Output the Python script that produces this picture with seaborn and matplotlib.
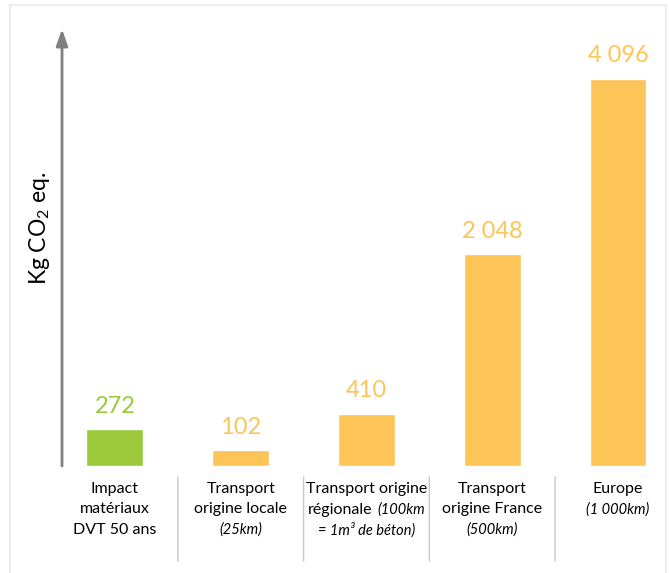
import numpy as np
import pandas as pd
import matplotlib.pyplot as plt
import seaborn as sns
from matplotlib.offsetbox import TextArea, HPacker, VPacker, AnnotationBbox
from matplotlib.patches import Rectangle

# Data
categories = ["Impact", "Locale", "Régionale", "France", "Europe"]
values = [272, 102, 410, 2048, 4096]
value_labels = ["272", "102", "410", "2 048", "4 096"]
bar_colors = ["#9AC93C", "#FDC558", "#FDC558", "#FDC558", "#FDC558"]

# category texts: lines of (text, italic) pieces
cat_texts = [
    [[("Impact", False)], [("matériaux", False)], [("DVT 50 ans", False)]],
    [[("Transport", False)], [("origine locale", False)], [("(25km)", True)]],
    [[("Transport origine", False)], [("régionale", False), ("(100km", True)],
     [("= 1m³ de béton)", True)]],
    [[("Transport", False)], [("origine France", False)], [("(500km)", True)]],
    [[("Europe", False)], [("(1 000km)", True)]],
]

sns.set_style("white")
plt.rcParams['font.family'] = ['Lato', 'DejaVu Sans']
plt.rcParams['mathtext.fontset'] = 'custom'
plt.rcParams['mathtext.rm'] = 'Lato'

W, H = 669, 573
fig = plt.figure(figsize=(W / 100, H / 100), dpi=100)

# faint outer frame
fig.add_artist(Rectangle((10 / W, -0.01), (666 - 10) / W, 1 - 5 / H + 0.01,
                         transform=fig.transFigure, fill=False,
                         edgecolor="#eeeeee", lw=1.5))

ax = fig.add_axes([62 / W, 1 - 466 / H, (660 - 62) / W, (466 - 29) / H])
df = pd.DataFrame({"cat": categories, "value": values})
sns.barplot(data=df, x="cat", y="value", hue="cat", palette=bar_colors,
            width=0.453, saturation=1, legend=False, ax=ax)

# bars are drawn on a compressed scale as in the original graphic
p = 0.87
ax.set_yscale('function', functions=(lambda y: np.power(np.clip(y, 0, None), p),
                                     lambda y: np.power(np.clip(y, 0, None), 1 / p)))
ax.set_ylim(0, 4711)
ax.set_xlim(-0.421, 4.334)

for s in ax.spines.values():
    s.set_visible(False)
ax.set_xticks([])
ax.set_yticks([])
ax.set_xlabel("")
ax.set_ylabel("")

# arrow axis
ax.annotate("", xy=(0, 1), xytext=(0, 0), xycoords='axes fraction',
            arrowprops=dict(arrowstyle='-|>,head_width=0.35,head_length=1.0',
                            color='#808080', lw=2, shrinkA=0, shrinkB=0),
            annotation_clip=False)

# value labels
for bar, lab, c in zip(ax.patches, value_labels, bar_colors):
    ax.annotate(lab, (bar.get_x() + bar.get_width() / 2, bar.get_height()),
                xytext=(0, 12), textcoords='offset points', ha='center',
                va='baseline', fontsize=17, color=c)

fig.text(40 / W, 1 - 228 / H, "Kg CO$_\\mathrm{2}$ eq.", rotation=90,
         ha='center', va='center', fontsize=16.5, color='black')

# category labels under each bar
for i, lines in enumerate(cat_texts):
    rows = []
    for line in lines:
        pieces = [TextArea(t, textprops=dict(fontsize=10.5 if it else 11.5,
                                             fontstyle='italic' if it else 'normal',
                                             color='black'))
                  for t, it in line]
        rows.append(HPacker(children=pieces, align='baseline', pad=0, sep=4))
    box = VPacker(children=rows, align='center', pad=0, sep=4.5)
    ab = AnnotationBbox(box, (i, 1 - 482 / H), xycoords=('data', 'figure fraction'),
                        box_alignment=(0.5, 1), frameon=False, pad=0,
                        annotation_clip=False)
    ax.add_artist(ab)

# thin separators between the label cells
for i in range(len(categories) - 1):
    ax.annotate("", xy=(i + 0.5, 1 - 477 / H), xytext=(i + 0.5, 1 - 561 / H),
                xycoords=('data', 'figure fraction'),
                arrowprops=dict(arrowstyle='-', color="#c8c8c8", lw=1,
                                shrinkA=0, shrinkB=0),
                annotation_clip=False)

fig.savefig("out.png", dpi=100)
